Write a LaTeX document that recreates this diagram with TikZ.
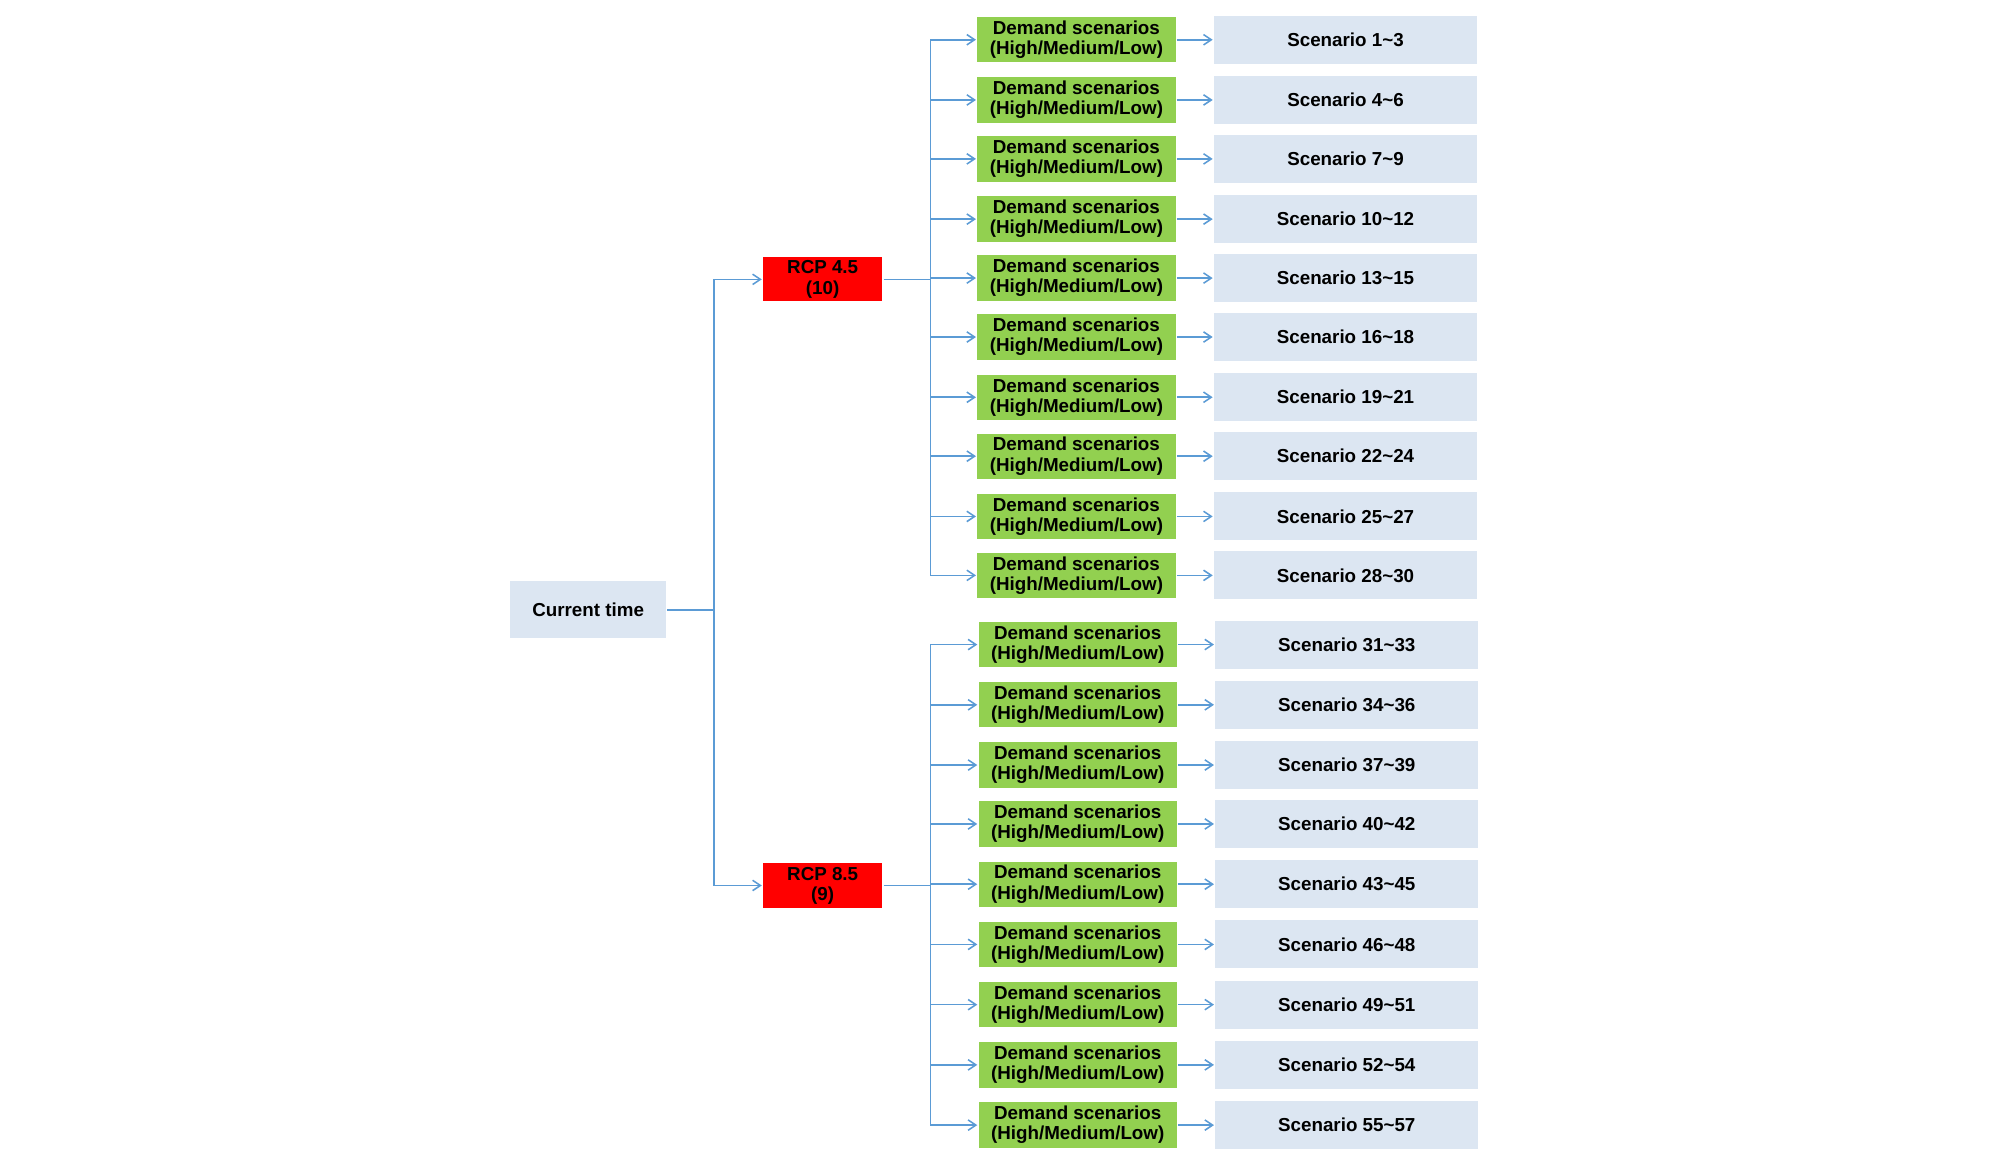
\documentclass[tikz,border=0pt]{standalone}
\usepackage{fontspec}
\setmainfont{Liberation Sans}
\usetikzlibrary{arrows.meta}
\definecolor{demgreen}{HTML}{92D050}
\definecolor{scenblue}{HTML}{DCE6F2}
\definecolor{linkblue}{HTML}{5B9BD5}
\tikzset{
  box/.style={draw=white, line width=1pt, inner sep=0pt, font=\fontsize{14.5}{15.5}\selectfont\bfseries, align=center},
  dem/.style={box, fill=demgreen, minimum width=154, minimum height=36},
  scen/.style={box, fill=scenblue, minimum width=204, minimum height=38},
  rcp/.style={box, fill=red, minimum width=93, minimum height=35},
  link/.style={linkblue, line width=1.2pt},
  arr/.style={link, -{Straight Barb[length=6pt,width=8pt]}}
}
\begin{document}
\begin{tikzpicture}[x=0.989pt, y=-0.989pt]
  \useasboundingbox (0,0) rectangle (1567,908);

  \node[box, fill=scenblue, minimum width=121, minimum height=45] (now) at (459,476) {Current time};
  \node[rcp] (r45) at (642,218) {RCP 4.5\\(10)};
  \node[rcp] (r85) at (642,691) {RCP 8.5\\(9)};

  \coordinate (split) at (557,476);
  \draw[link] (now) -- (split);
  \draw[arr] (split) |- (r45);
  \draw[arr] (split) |- (r85);

  % RCP 4.5 branch
  \foreach \i/\y in {1/31,2/78,3/124,4/171,5/217,6/263,7/310,8/356,9/403,10/449} {
    \pgfmathtruncatemacro{\lo}{3*\i-2}
    \pgfmathtruncatemacro{\hi}{3*\i}
    \node[dem] (d\i) at (840,\y) {Demand scenarios\\(High/Medium/Low)};
    \node[scen] (s\i) at (1050,\y) {Scenario \lo\textasciitilde\hi};
    \coordinate (b\i) at (726,\y);
    \draw[arr] (b\i) -- (d\i);
    \draw[arr] (d\i) -- (s\i);
  }
  \draw[link] (b1) -- (b10);
  \draw[link] (r45.east) -- (r45.east -| b1);

  % RCP 8.5 branch
  \foreach \i/\y in {11/503,12/550,13/597,14/643,15/690,16/737,17/784,18/831,19/878} {
    \pgfmathtruncatemacro{\lo}{3*\i-2}
    \pgfmathtruncatemacro{\hi}{3*\i}
    \node[dem] (d\i) at (841,\y) {Demand scenarios\\(High/Medium/Low)};
    \node[scen] (s\i) at (1051,\y) {Scenario \lo\textasciitilde\hi};
    \coordinate (b\i) at (726,\y);
    \draw[arr] (b\i) -- (d\i);
    \draw[arr] (d\i) -- (s\i);
  }
  \draw[link] (b11) -- (b19);
  \draw[link] (r85.east) -- (r85.east -| b11);
\end{tikzpicture}
\end{document}
